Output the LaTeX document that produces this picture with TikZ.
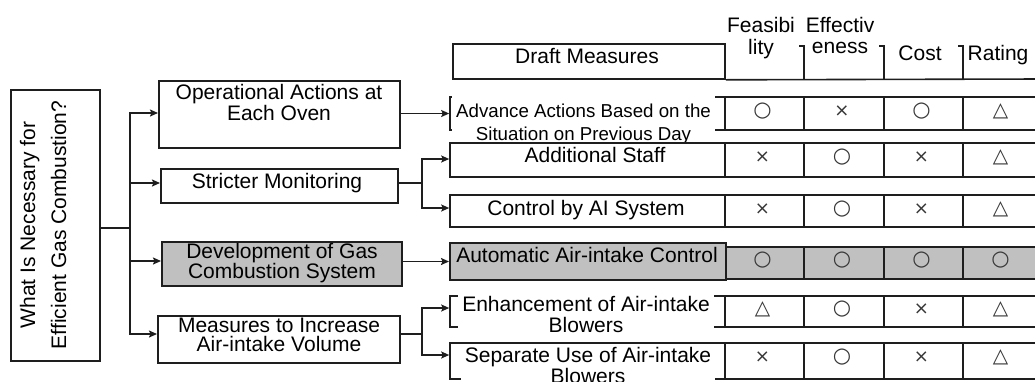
\documentclass[tikz,border=0pt]{standalone}
\usepackage{fontspec}
\setmainfont{Liberation Sans}
\newfontfamily\markfont{DejaVu Sans}
\usetikzlibrary{arrows.meta,calc}

\definecolor{ink}{RGB}{30,30,30}
\definecolor{shade}{RGB}{192,192,192}
\definecolor{markink}{RGB}{55,55,55}

\newcommand\markO{{\fontsize{21}{21}\selectfont ○}}
\newcommand\markX{{\fontsize{18}{18}\selectfont ×}}
\newcommand\markT{{\fontsize{20}{20}\selectfont △}}

\tikzset{
  frame/.style={draw=ink, line width=2pt, fill=white, inner sep=0pt},
  cellbox/.style={draw=ink, line width=1.6pt, fill=white, inner sep=0pt},
  cellline/.style={draw=ink, line width=1.6pt},
  conn/.style={draw=ink, line width=1.7pt},
  arr/.style={conn, -{Stealth[length=8pt,width=7pt,inset=1.5pt]}},
  txt/.style={font=\fontsize{21}{21}\selectfont, inner sep=0pt, align=center},
  symb/.style={text=markink, inner sep=0pt, font=\markfont},
}

\begin{document}
\begin{tikzpicture}[x=1pt,y=-1pt]
\useasboundingbox (0,0) rectangle (1035,381);
\clip (0,0) rectangle (1035,381);

% ---- goal box ----
\node[frame, minimum width=89pt, minimum height=271pt] (root) at (55.5,225.5) {};
\node[txt, rotate=90, font=\fontsize{21}{31}\selectfont] (rootlbl) at (43,225)
  {What Is Necessary for\\Efficient Gas Combustion?};

% ---- first-level means ----
\node[frame, minimum width=241pt, minimum height=67pt] (op) at (279.5,114.5) {};
\node[txt] (oplbl) at (279,102.9) {Operational Actions at\\Each Oven};

\node[frame, minimum width=237pt, minimum height=34pt] (str) at (279.5,186) {};
\node[txt, anchor=base] (strlbl) at (277,188) {Stricter Monitoring};

\node[frame, fill=shade, minimum width=240pt, minimum height=44pt] (dev) at (282,264) {};
\node[txt, font=\fontsize{21}{19}\selectfont] (devlbl) at (282,263) {Development of Gas\\Combustion System};

\node[frame, minimum width=242pt, minimum height=47pt] (mea) at (279,339.5) {};
\node[txt, font=\fontsize{21}{19.5}\selectfont] (mealbl) at (279,335) {Measures to Increase\\Air-intake Volume};

% ---- table header ----
\node[cellbox, minimum width=272pt, minimum height=35pt] (hdr) at (589,61.5) {};
\node[txt, anchor=base] (hdrlbl) at (587,63) {Draft Measures};
\foreach \sx in {804,884,963}
  \draw[cellline] (\sx-5,46) -- (\sx,46) -- (\sx,79);
\draw[cellline] (hdr.south east) -- (1042,79);
\node[txt, font=\fontsize{21}{22}\selectfont] (hfea) at (761,38.5) {Feasibi\\lity};
\node[txt, font=\fontsize{21}{20.5}\selectfont] (heff) at (840,35.6) {Effectiv\\eness};
\node[txt, anchor=base] (hcost) at (920,60) {Cost};
\node[txt, anchor=base] (hrate) at (998,60) {Rating};

% ---- table rows: draft cell, four rating cells, marks ----
% row 1
\node[cellbox, minimum width=275pt, minimum height=33pt] (adv) at (587.5,113.5) {};
\foreach \cx/\cw [count=\i] in {764.5/79,844/80,923.5/79,1002.5/79}
  \node[cellbox, minimum width=\cw pt, minimum height=33pt] (adv-\i) at (\cx,113.5) {};
\foreach \m [count=\i] in {\markO,\markX,\markO,\markT}
  \node[symb] (advm-\i) at ($(adv-\i)+(-2,-2.5)$) {\m};
\node[txt, fill=white, font=\fontsize{18.7}{23}\selectfont, inner xsep=4pt, inner ysep=8pt]
  (advlbl) at (583.5,123.7) {Advance Actions Based on the\\Situation on Previous Day};

% row 2
\node[cellbox, minimum width=275pt, minimum height=34pt] (staff) at (587.5,160) {};
\foreach \cx/\cw [count=\i] in {764.5/79,844/80,923.5/79,1002.5/79}
  \node[cellbox, minimum width=\cw pt, minimum height=34pt] (staff-\i) at (\cx,160) {};
\foreach \m [count=\i] in {\markX,\markO,\markX,\markT}
  \node[symb] (staffm-\i) at ($(staff-\i)+(-2,-2.5)$) {\m};
\node[txt, anchor=base] (stafflbl) at (595,162) {Additional Staff};

% row 3
\node[cellbox, minimum width=275pt, minimum height=32pt] (ai) at (587.5,211) {};
\foreach \cx/\cw [count=\i] in {764.5/79,844/80,923.5/79,1002.5/79}
  \node[cellbox, minimum width=\cw pt, minimum height=32pt] (ai-\i) at (\cx,211) {};
\foreach \m [count=\i] in {\markX,\markO,\markX,\markT}
  \node[symb] (aim-\i) at ($(ai-\i)+(-2,-2)$) {\m};
\node[txt, anchor=base] (ailbl) at (586,215) {Control by AI System};

% row 4 (selected measure)
\foreach \cx/\cw [count=\i] in {764.5/79,844/80,923.5/79,1002.5/79}
  \node[cellbox, fill=shade, minimum width=\cw pt, minimum height=32pt] (auto-\i) at (\cx,263) {};
\node[frame, fill=shade, minimum width=276pt, minimum height=37pt] (auto) at (588,261.5) {};
\foreach \m [count=\i] in {\markO,\markO,\markO,\markO}
  \node[symb] (autom-\i) at ($(auto-\i)+(-2,-3)$) {\m};
\node[txt, anchor=base] (autolbl) at (587,262) {Automatic Air-intake Control};

% row 5
\node[cellbox, minimum width=275pt, minimum height=31pt] (enh) at (587.5,311.5) {};
\foreach \cx/\cw [count=\i] in {764.5/79,844/80,923.5/79,1002.5/79}
  \node[cellbox, minimum width=\cw pt, minimum height=31pt] (enh-\i) at (\cx,311.5) {};
\foreach \m [count=\i] in {\markT,\markO,\markX,\markT}
  \node[symb] (enhm-\i) at ($(enh-\i)+(-2,-2.5)$) {\m};
\node[txt, fill=white, inner xsep=4pt, inner ysep=3pt] (enhlbl) at (586,314.9)
  {Enhancement of Air-intake\\Blowers};

% row 6
\node[cellbox, minimum width=275pt, minimum height=36pt] (sep) at (587.5,361) {};
\foreach \cx/\cw [count=\i] in {764.5/79,844/80,923.5/79,1002.5/79}
  \node[cellbox, minimum width=\cw pt, minimum height=36pt] (sep-\i) at (\cx,361) {};
\foreach \m [count=\i] in {\markX,\markO,\markX,\markT}
  \node[symb] (sepm-\i) at ($(sep-\i)+(-2,-3.5)$) {\m};
\node[txt, fill=white, inner xsep=4pt, inner ysep=1pt] (seplbl) at (588,365.9)
  {Separate Use of Air-intake\\Blowers};

% ---- connectors ----
\coordinate (tr) at (130,228);
\draw[conn] (root.east |- tr) -- (tr);
\draw[arr] (tr) |- ($(op.west)+(0,-1.5)$);
\draw[arr] (tr) |- ($(str.west)+(0,-3)$);
\draw[arr] (tr) |- ($(dev.west)+(0,-3)$);
\draw[arr] (tr) |- ($(mea.west)+(0,-5.5)$);

\draw[arr] (op.east |- adv.west) -- (adv.west);

\coordinate (b1) at (422,183);
\draw[conn] (str.east |- b1) -- (b1);
\draw[arr] (b1) |- ($(staff.west)+(0,-1)$);
\draw[arr] (b1) |- ($(ai.west)+(0,-3)$);

\draw[arr] (dev.east |- auto.west) -- (auto.west);

\coordinate (b2) at (422,334);
\draw[conn] (mea.east |- b2) -- (b2);
\draw[arr] (b2) |- ($(enh.west)+(0,-3.5)$);
\draw[arr] (b2) |- ($(sep.west)+(0,-6)$);
\end{tikzpicture}
\end{document}
